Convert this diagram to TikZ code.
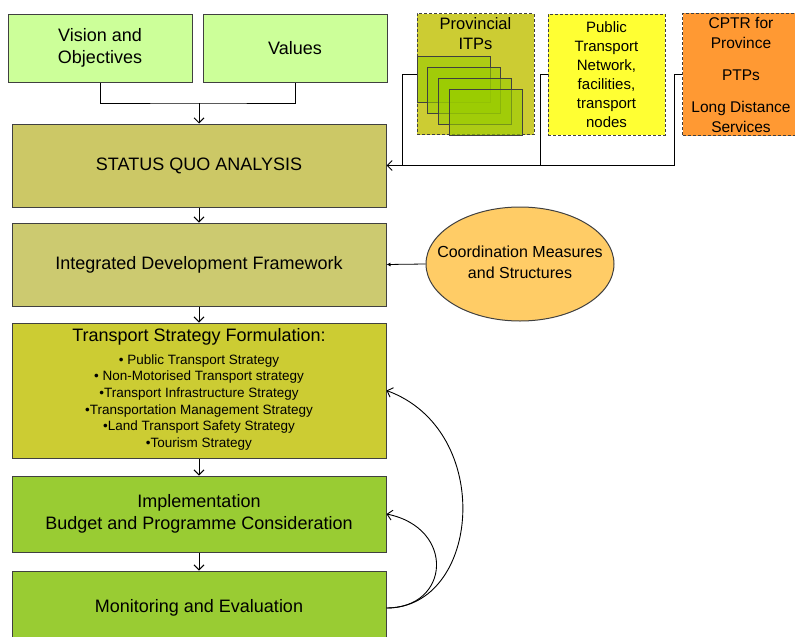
\documentclass[tikz,border=0pt]{standalone}
\usepackage{fontspec}
\setmainfont{Liberation Sans}
\usepackage{tikz}
\usetikzlibrary{shapes.geometric, arrows.meta, positioning}
\usepackage{xcolor}

\definecolor{visiongreen}{HTML}{CCFF99}
\definecolor{statusolive}{HTML}{CCC866}
\definecolor{frameolive}{HTML}{CCCA70}
\definecolor{strategyolive}{HTML}{CCCC33}
\definecolor{actiongreen}{HTML}{99CC33}
\definecolor{itpgreen}{HTML}{99CC00}
\definecolor{networkyellow}{HTML}{FFFF33}
\definecolor{cptrorange}{HTML}{FF9933}
\definecolor{coordorange}{HTML}{FFCC66}
\definecolor{edgegray}{HTML}{404040}

\begin{document}
\begin{tikzpicture}[
      x=1pt, y=-1pt,
      node distance=16pt,
      every node/.style={font=\fontsize{18}{22}\selectfont, text=black},
      topbox/.style={rectangle, draw=edgegray, line width=1pt, fill=visiongreen, minimum width=184pt, minimum height=68pt, align=center},
      stage/.style={rectangle, draw=edgegray, line width=1pt, minimum width=374pt, align=center, inner sep=2pt},
      source/.style={rectangle, draw=edgegray, line width=1pt, dash pattern=on 3pt off 2pt, minimum width=117pt, minimum height=121pt, align=center, font=\fontsize{15}{19}\selectfont},
      sheet/.style={draw=edgegray, line width=0.8pt, fill=itpgreen, fill opacity=0.6},
      arrow/.style={-{Straight Barb[length=5pt,width=10pt]}, line width=1pt, black},
      feed/.style={-{Latex[length=4pt,width=4pt]}, line width=0.8pt, black}
    ]

    % Page
    \fill[white] (0,0) rectangle (795,637);
    \useasboundingbox (0,0) rectangle (795,637);

    % Nodes
    \node[topbox] (vision) at (100,48) {Vision and\\Objectives};
    \node[topbox] (values) at (295,48) {Values};

    \node[stage, fill=statusolive, minimum height=83pt] (status) at (199,165.5) {STATUS QUO ANALYSIS};
    \node[stage, fill=frameolive, minimum height=83pt, below=15pt of status] (idf) {Integrated Development Framework};
    \node[stage, fill=strategyolive, minimum height=135pt, below=16pt of idf] (tsf)
      {Transport Strategy Formulation:\\[6pt]
       {\fontsize{13.5}{16.6}\selectfont
        \begin{tabular}{@{}c@{}}
         • Public Transport Strategy\\
         • Non-Motorised Transport strategy\\
         •Transport Infrastructure Strategy\\
         •Transportation Management Strategy\\
         •Land Transport Safety Strategy\\
         •Tourism Strategy
        \end{tabular}}};
    \node[stage, fill=actiongreen, minimum height=76pt, below=17pt of tsf] (impl) {Implementation\\Budget and Programme Consideration};
    \node[stage, fill=actiongreen, minimum height=74pt, below=18pt of impl] (monitor) {Monitoring and Evaluation};

    \node[source, fill=strategyolive, label={[anchor=north, align=center, font=\fontsize{16.5}{20}\selectfont, yshift=-1pt]north:Provincial\\ITPs}] (itps) at (475.5,74) {};
    \node[source, fill=networkyellow] (network) at (606.5,74.5)
      {Public\\Transport\\Network,\\facilities,\\transport\\nodes};
    \node[source, fill=cptrorange, font=\fontsize{15.5}{20}\selectfont] (cptr) at (741,74.5)
      {CPTR for\\Province\\[12pt]PTPs\\[12pt]Long Distance\\Services};

    \node[ellipse, draw=edgegray, line width=1pt, fill=coordorange, minimum width=188pt, minimum height=114pt, inner sep=0pt, font=\fontsize{16}{20.5}\selectfont] (coord) at (520,264)
      {\makebox[0pt]{\begin{tabular}{@{}c@{}}Coordination Measures\\and Structures\end{tabular}}};

    % ITP sheets
    \foreach \i in {0,...,3}
      \draw[sheet] (417+10.7*\i,56+11*\i) rectangle ++(73,46);

    % Arrows
    \coordinate (join) at (199,103);
    \draw[line width=1pt] (vision.south) |- (join) -| (values.south);
    \draw[arrow] (join) -- (status.north);

    \draw[line width=1pt] (network.west) -- ++(-7,0) |- (status.east);
    \draw[line width=1pt] (cptr.west) -- ++(-8,0) |- (status.east);
    \draw[arrow] (itps.west) -- ++(-14,0) |- (status.east);

    \draw[arrow] (status) -- (idf);
    \draw[arrow] (idf) -- (tsf);
    \draw[arrow] (tsf) -- (impl);
    \draw[arrow] (impl) -- (monitor);

    \draw[feed] (coord.west) -- (idf.east);

    \draw[arrow, line width=0.9pt] (monitor.east) .. controls +(94,0) and +(109,40) .. (tsf.east);
    \draw[arrow, line width=0.9pt] (monitor.east) .. controls +(64,0) and +(69,14) .. (impl.east);

    \end{tikzpicture}
\end{document}
